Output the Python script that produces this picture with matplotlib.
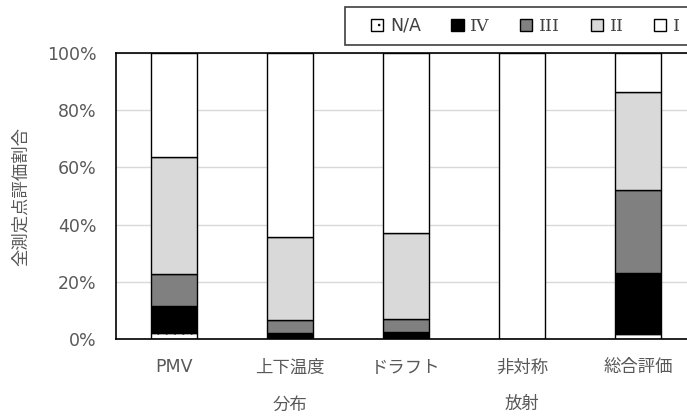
import numpy as np
import matplotlib
matplotlib.use("Agg")
from matplotlib import pyplot as plt
from matplotlib.patches import Patch, Rectangle

plt.rcParams['font.family'] = ['DejaVu Sans', 'Noto Sans CJK JP']
plt.rcParams['hatch.linewidth'] = 0.6

# Data (percent of all measuring points)
categories = ["PMV", "上下温度\n分布", "ドラフト", "非対称\n放射", "総合評価"]
na_vals = [2.0, 0.0, 0.0, 0.0, 1.7]
iv_vals = [9.5, 2.0, 2.4, 0.0, 21.5]
iii_vals = [11.1, 4.6, 4.6, 0.0, 28.9]
ii_vals = [41.0, 29.0, 30.0, 0.0, 34.4]
i_vals = [100 - a - b - c - d for a, b, c, d in zip(na_vals, iv_vals, iii_vals, ii_vals)]

fig = plt.figure(figsize=(6.87, 4.16), dpi=100)
ax = fig.add_axes([116 / 687, 77 / 416, 580 / 687, 286 / 416])

x = np.arange(len(categories))
w = 0.4
edge = dict(edgecolor='black', linewidth=1.0)
bottom = np.zeros(len(categories))
ax.bar(x, na_vals, w, bottom=bottom, color='white', hatch='..', **edge)
bottom += na_vals
ax.bar(x, iv_vals, w, bottom=bottom, color='black', **edge)
bottom += iv_vals
ax.bar(x, iii_vals, w, bottom=bottom, color='#808080', **edge)
bottom += iii_vals
ax.bar(x, ii_vals, w, bottom=bottom, color='#d9d9d9', **edge)
bottom += ii_vals
ax.bar(x, i_vals, w, bottom=bottom, color='white', **edge)

ax.set_xlim(-0.5, 4.5)
ax.set_ylim(0, 100)
ax.set_yticks(range(0, 101, 20))
ax.set_yticklabels([f"{v}%" for v in range(0, 101, 20)], fontsize=12.5, color='#595959')
ax.set_xticks(x)
ax.set_xticklabels(categories, fontsize=12.5, color='#595959', linespacing=2.35)
ax.tick_params(axis='both', length=0)
ax.tick_params(axis='x', pad=14)
ax.tick_params(axis='y', pad=14)
ax.yaxis.grid(True, color='#d9d9d9', linewidth=1)
ax.set_axisbelow(True)
for s in ax.spines.values():
    s.set_color('black')
    s.set_linewidth(1.2)
ax.set_ylabel("全測定点評価割合", fontsize=12.5, color='#595959', labelpad=12)

# legend frame (runs off the right edge like the original)
fig.patches.append(Rectangle((345 / 687, 1 - 45 / 416), 400 / 687, 38 / 416,
                             transform=fig.transFigure, facecolor='white',
                             edgecolor='#404040', linewidth=1.2))
handles = [
    Patch(facecolor='white', edgecolor='black', hatch='..'),
    Patch(facecolor='black', edgecolor='black'),
    Patch(facecolor='#808080', edgecolor='black'),
    Patch(facecolor='#d9d9d9', edgecolor='black'),
    Patch(facecolor='white', edgecolor='black'),
]
labels = ["N/A", "IV", "III", "II", "I"]
leg = fig.legend(handles, labels, ncol=5, loc='center left',
                 bbox_to_anchor=(371 / 687, 1 - 26 / 416),
                 fontsize=12.5, frameon=False,
                 handlelength=0.7, handleheight=0.7, handletextpad=0.4,
                 columnspacing=1.75, borderpad=0, borderaxespad=0)
for t in leg.get_texts():
    t.set_color('#404040')
    if t.get_text() != "N/A":
        t.set_fontfamily('DejaVu Serif')

fig.savefig("out.png", dpi=100)
